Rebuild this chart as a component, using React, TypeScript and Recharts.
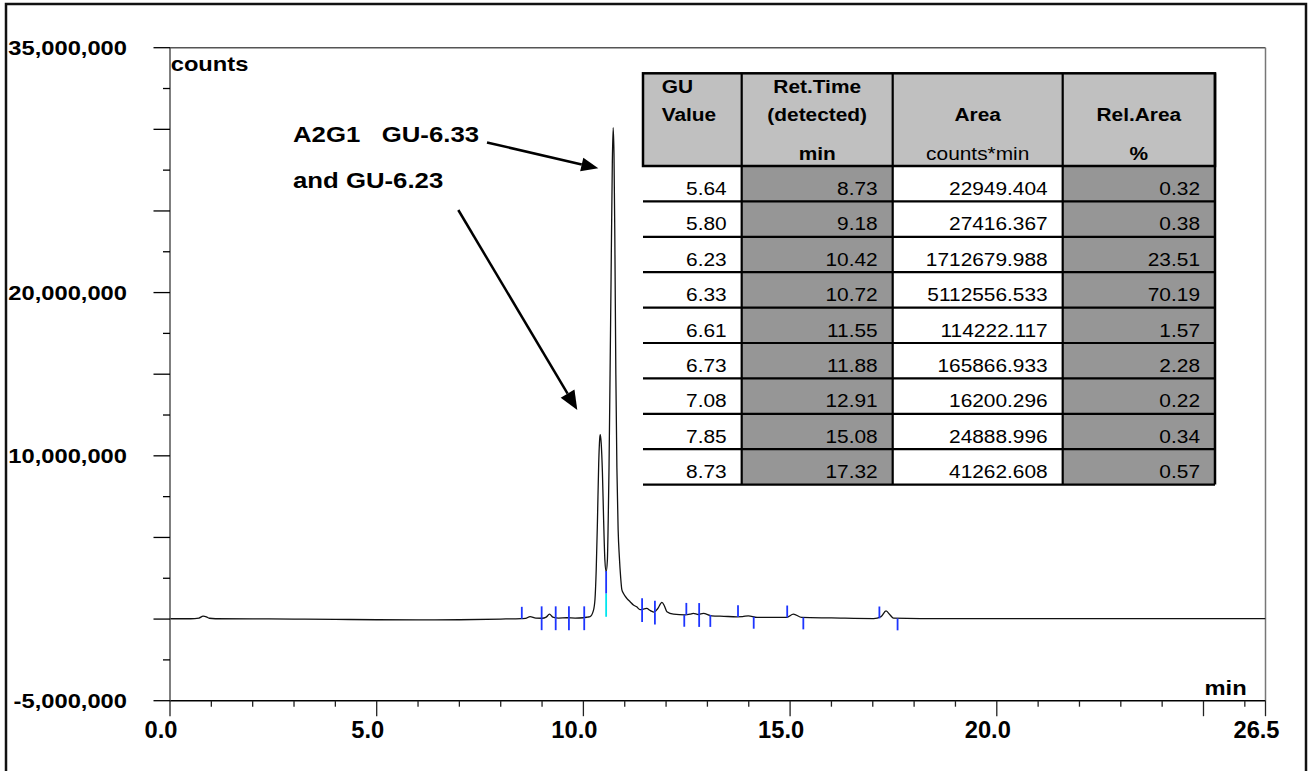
import React from 'react';
import { LineChart, Line, XAxis, YAxis, ReferenceLine } from 'recharts';

// chromatogram trace (retention time in min, signal in counts)
const traceTimes = [
  0, 0.5, 0.7, 0.8, 0.88, 0.95, 1.1, 2, 3, 4, 5, 6, 7, 8, 8.5, 8.6, 8.71, 8.85, 9.0, 9.1, 9.18, 9.26, 9.4, 9.6, 9.8,
  10.0, 10.1, 10.16, 10.24, 10.28, 10.31, 10.34, 10.37, 10.4, 10.41, 10.43, 10.46, 10.49, 10.52, 10.55,
  10.58, 10.6, 10.62, 10.645, 10.67, 10.7, 10.72, 10.74, 10.76, 10.785, 10.81, 10.84, 10.87, 10.9, 10.93,
  10.97, 11.05, 11.13, 11.21, 11.29, 11.37, 11.53, 11.62, 11.71, 11.8, 11.9, 11.96, 12.02, 12.18, 12.46, 12.58,
  12.66, 12.78, 12.9, 13.1, 13.4, 13.71, 13.85, 13.99, 14.2, 14.6, 14.92, 15.08, 15.28, 16.0, 17.02, 17.2, 17.32,
  17.42, 17.5, 18.15, 20, 23, 26.5,
];
const traceCounts = [
  20000, 20000, 60000, 180000, 140000, 50000, 20000, 10000, 0, -20000, -40000, -50000, -40000, 0, 30000, 40000,
  150000, 60000, 50000, 120000, 300000, 120000, 60000, 80000, 60000,
  80000, 120000, 150000, 500000, 1200000, 3000000, 6000000, 9500000, 11200000, 11300000, 10800000, 9000000,
  6000000, 3600000, 2900000,
  3600000, 6000000, 9300000, 15000000, 21000000, 28000000, 30100000, 28500000, 23500000, 15000000, 9300000,
  5500000, 3800000, 2600000, 1800000,
  1570000, 1270000, 1060000, 860000, 750000, 580000, 650000, 520000, 420000, 650000, 1020000, 800000, 450000,
  300000, 260000, 300000,
  350000, 280000, 350000, 200000, 170000, 140000, 150000, 200000, 100000, 100000, 110000, 300000, 100000, 70000,
  30000, 150000, 500000,
  250000, 60000, 30000, 30000, 30000, 30000,
];

// integration marks: peak starts (drawn up) and peak ends (drawn down)
const startTimes = [8.51, 8.99, 9.33, 9.65, 10.02, 11.42, 11.73, 12.49, 12.8, 13.74, 14.93, 17.16];
const startLevels = [20000, 50000, 50000, 50000, 50000, 550000, 400000, 260000, 250000, 120000, 100000, 40000];
const endTimes = [8.99, 9.33, 9.65, 10.02, 11.42, 11.73, 12.44, 12.8, 13.07, 14.12, 15.32, 17.6];
const endLevels = [50000, 50000, 50000, 50000, 550000, 400000, 260000, 250000, 250000, 140000, 100000, 40000];
const splitTime = 10.55;
const splitLevels = [140000, 1570000, 2940000];

// axes
const xTicks = [0, 1, 2, 3, 4, 5, 6, 7, 8, 9, 10, 11, 12, 13, 14, 15, 16, 17, 18, 19, 20, 21, 22, 23, 24, 25, 26, 26.5];
const xMajor = [0, 5, 10, 15, 20, 25, 26.5];
const xLabels = [0, 5, 10, 15, 20, 26.5];
const yTicks = [
  -5000000, -2500000, 0, 2500000, 5000000, 7500000, 10000000, 12500000, 15000000, 17500000, 20000000, 22500000,
  25000000, 27500000, 30000000, 32500000, 35000000,
];
const yLabels = [35000000, 20000000, 10000000, -5000000];

// peak table
const guValues = ['5.64', '5.80', '6.23', '6.33', '6.61', '6.73', '7.08', '7.85', '8.73'];
const retTimes = ['8.73', '9.18', '10.42', '10.72', '11.55', '11.88', '12.91', '15.08', '17.32'];
const areas = ['22949.404', '27416.367', '1712679.988', '5112556.533', '114222.117', '165866.933', '16200.296', '24888.996', '41262.608'];
const relAreas = ['0.32', '0.38', '23.51', '70.19', '1.57', '2.28', '0.22', '0.34', '0.57'];

const chartData = traceTimes.map((t, i) => ({ t, counts: traceCounts[i] }));

const MARK = 730000;
const BLUE = '#1d35ff';
const FONT = '"Liberation Sans", Arial, sans-serif';

const YTick = (props: any) => {
  const { x, y, payload } = props;
  const v = payload.value;
  const major = v % 5000000 === 0;
  return (
    <g>
      <line x1={x - (major ? 16.5 : 7)} x2={x} y1={y} y2={y} stroke="#000" strokeWidth={1.3} />
      {yLabels.includes(v) && (
        <text
          transform={`translate(${x - 43} ${y}) scale(1.13 1)`}
          textAnchor="end"
          dominantBaseline="central"
          fontSize={21}
          fontWeight="bold"
          fontFamily={FONT}
          fill="#000"
        >
          {v.toLocaleString('en-US')}
        </text>
      )}
    </g>
  );
};

const XTick = (props: any) => {
  const { x, y, payload } = props;
  const v = payload.value;
  const major = xMajor.includes(v);
  return (
    <g>
      <line x1={x} x2={x} y1={y} y2={y + (major ? 15.5 : 6)} stroke="#222" strokeWidth={1.3} />
      {xLabels.includes(v) && (
        <text
          transform={`translate(${x - 9} ${y + 37.6}) scale(1.03 1)`}
          textAnchor="middle"
          fontSize={23}
          fontWeight="bold"
          fontFamily={FONT}
          fill="#000"
        >
          {v.toFixed(1)}
        </text>
      )}
    </g>
  );
};

function Arrow({ x1, y1, x2, y2, head = 17, half = 7 }: any) {
  const len = Math.hypot(x2 - x1, y2 - y1);
  const ux = (x2 - x1) / len;
  const uy = (y2 - y1) / len;
  const bx = x2 - ux * head;
  const by = y2 - uy * head;
  const pts = `${x2},${y2} ${bx - uy * half},${by + ux * half} ${bx + uy * half},${by - ux * half}`;
  return (
    <g>
      <line x1={x1} y1={y1} x2={bx} y2={by} stroke="#000" strokeWidth={2.5} />
      <polygon points={pts} fill="#000" />
    </g>
  );
}

function PeakTable() {
  const cols = [643, 741.7, 892.7, 1062.7, 1215];
  const top = 73.3;
  const headBottom = 166;
  const rowH = 35.4;
  const bottom = headBottom + rowH * guValues.length;
  const txt = (x: number, y: number, s: string, anchor: string, bold = false) => (
    <text
      transform={`translate(${x} ${y}) scale(1.16 1)`}
      textAnchor={anchor}
      fontSize={18}
      fontWeight={bold ? 'bold' : 'normal'}
      fontFamily={FONT}
      fill="#000"
    >
      {s}
    </text>
  );
  const mid = (i: number) => (cols[i] + cols[i + 1]) / 2;
  return (
    <g>
      <rect x={cols[0]} y={top} width={cols[4] - cols[0]} height={headBottom - top} fill="#c0c0c0" />
      <rect x={cols[1]} y={headBottom} width={cols[2] - cols[1]} height={bottom - headBottom} fill="#969696" />
      <rect x={cols[3]} y={headBottom} width={cols[4] - cols[3]} height={bottom - headBottom} fill="#969696" />
      <rect x={cols[0]} y={top} width={cols[4] - cols[0]} height={headBottom - top} fill="none" stroke="#000" strokeWidth={2.5} />
      {[1, 2, 3].map((i) => (
        <line key={i} x1={cols[i]} x2={cols[i]} y1={top} y2={bottom} stroke="#000" strokeWidth={2.2} />
      ))}
      <line x1={cols[4]} x2={cols[4]} y1={top} y2={bottom} stroke="#000" strokeWidth={2.5} />
      {guValues.map((_, r) => (
        <line key={r} x1={cols[0]} x2={cols[4]} y1={headBottom + rowH * (r + 1)} y2={headBottom + rowH * (r + 1)} stroke="#000" strokeWidth={2.2} />
      ))}
      {txt(661.7, 93.3, 'GU', 'start', true)}
      {txt(661.7, 121, 'Value', 'start', true)}
      {txt(mid(1), 93.3, 'Ret.Time', 'middle', true)}
      {txt(mid(1), 121, '(detected)', 'middle', true)}
      {txt(mid(1), 160, 'min', 'middle', true)}
      {txt(mid(2), 121, 'Area', 'middle', true)}
      {txt(mid(2), 160, 'counts*min', 'middle')}
      {txt(mid(3), 121, 'Rel.Area', 'middle', true)}
      {txt(mid(3), 160, '%', 'middle', true)}
      {guValues.map((g, r) => {
        const y = headBottom + rowH * r + 29;
        return (
          <g key={r}>
            {txt(cols[1] - 15, y, g, 'end')}
            {txt(cols[2] - 15, y, retTimes[r], 'end')}
            {txt(cols[3] - 15, y, areas[r], 'end')}
            {txt(cols[4] - 15, y, relAreas[r], 'end')}
          </g>
        );
      })}
    </g>
  );
}

export default function App() {
  return (
    <div style={{ position: 'absolute', left: 0, top: 0, width: 1310, height: 771, background: '#fff', overflow: 'hidden' }}>
      <LineChart
        width={1310}
        height={771}
        data={chartData}
        margin={{ top: 47.7, right: 44.5, bottom: 0, left: 0 }}
      >
        <XAxis
          dataKey="t"
          type="number"
          domain={[0, 26.5]}
          ticks={xTicks}
          interval={0}
          allowDataOverflow
          height={70.3}
          tickLine={false}
          tickSize={0}
          tickMargin={0}
          axisLine={{ stroke: '#000', strokeWidth: 1.5 }}
          tick={<XTick />}
        />
        <YAxis
          type="number"
          domain={[-5000000, 35000000]}
          ticks={yTicks}
          interval={0}
          allowDataOverflow
          width={170}
          tickLine={false}
          tickSize={0}
          tickMargin={0}
          axisLine={{ stroke: '#555', strokeWidth: 1.5 }}
          tick={<YTick />}
        />
        <ReferenceLine y={35000000} stroke="#555" strokeWidth={1.5} />
        <ReferenceLine x={26.5} stroke="#777" strokeWidth={1.5} />
        <Line
          dataKey="counts"
          type="monotone"
          stroke="#111"
          strokeWidth={1.3}
          dot={false}
          isAnimationActive={false}
        />
        {startTimes.map((t, i) => (
          <ReferenceLine
            key={`s${i}`}
            segment={[{ x: t, y: startLevels[i] }, { x: t, y: startLevels[i] + MARK }]}
            stroke={BLUE}
            strokeWidth={1.8}
          />
        ))}
        {endTimes.map((t, i) => (
          <ReferenceLine
            key={`e${i}`}
            segment={[{ x: t, y: endLevels[i] }, { x: t, y: endLevels[i] - MARK }]}
            stroke={BLUE}
            strokeWidth={1.8}
          />
        ))}
        <ReferenceLine
          segment={[{ x: splitTime, y: splitLevels[0] }, { x: splitTime, y: splitLevels[1] }]}
          stroke="#00e5ee"
          strokeWidth={1.8}
        />
        <ReferenceLine
          segment={[{ x: splitTime, y: splitLevels[1] }, { x: splitTime, y: splitLevels[2] }]}
          stroke={BLUE}
          strokeWidth={1.8}
        />
      </LineChart>
      <svg width={1310} height={771} style={{ position: 'absolute', left: 0, top: 0, pointerEvents: 'none' }}>
        <rect x={6} y={4} width={1300} height={800} fill="none" stroke="#111" strokeWidth={2.5} />
        <text transform="translate(170.7 70.7) scale(1.13 1)" fontSize={21} fontWeight="bold" fontFamily={FONT}>
          counts
        </text>
        <text transform="translate(1246.7 695) scale(1.13 1)" textAnchor="end" fontSize={21} fontWeight="bold" fontFamily={FONT}>
          min
        </text>
        <text
          transform="translate(293 141.7) scale(1.12 1)"
          fontSize={23}
          fontWeight="bold"
          fontFamily={FONT}
          style={{ whiteSpace: 'pre' }}
        >
          {'A2G1   GU-6.33'}
        </text>
        <text transform="translate(293 188.3) scale(1.12 1)" fontSize={23} fontWeight="bold" fontFamily={FONT}>
          and GU-6.23
        </text>
        <Arrow x1={487} y1={142.5} x2={598.3} y2={168.3} head={17} half={7} />
        <Arrow x1={458.3} y1={210} x2={577.3} y2={410} head={19} half={8} />
        <PeakTable />
      </svg>
    </div>
  );
}
